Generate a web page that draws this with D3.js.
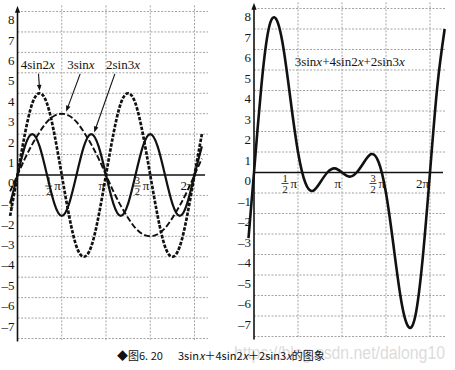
<!DOCTYPE html>
<html>
<head>
<meta charset="utf-8">
<script src="https://cdnjs.cloudflare.com/ajax/libs/d3/7.8.5/d3.min.js"></script>
<style>
body { margin: 0; background: #fff; }
svg { display: block; }
text { font-family: "Liberation Serif", "DejaVu Serif", serif; fill: #151515; }
</style>
</head>
<body>
<div id="chart"></div>
<script>
// Werte, x in Schritten von pi/12
var kLeft = [-1, 0, 1, 2, 3, 4, 5, 6, 7, 8, 9, 10, 11, 12, 13, 14, 15, 16, 17, 18, 19, 20, 21, 22, 23, 24, 25];
var val3sinx = [-0.8, 0, 0.8, 1.5, 2.1, 2.6, 2.9, 3.0, 2.9, 2.6, 2.1, 1.5, 0.8, 0, -0.8, -1.5, -2.1, -2.6, -2.9, -3.0, -2.9, -2.6, -2.1, -1.5, -0.8, 0, 0.8];
var val4sin2x = [-2, 0, 2, 3.5, 4, 3.5, 2, 0, -2, -3.5, -4, -3.5, -2, 0, 2, 3.5, 4, 3.5, 2, 0, -2, -3.5, -4, -3.5, -2, 0, 2];
var val2sin3x = [-1.4, 0, 1.4, 2, 1.4, 0, -1.4, -2, -1.4, 0, 1.4, 2, 1.4, 0, -1.4, -2, -1.4, 0, 1.4, 2, 1.4, 0, -1.4, -2, -1.4, 0, 1.4];

var kRight = [-0.75, 0, 1, 2, 3, 4, 5, 6, 7, 8, 9, 10, 11, 12, 13, 14, 15, 16, 17, 18, 19, 20, 21, 22, 23, 24, 25, 26];
var valSum = [-3.2, 0, 4.2, 7.0, 7.5, 6.1, 3.5, 1.0, -0.5, -0.9, -0.5, 0.0, 0.2, 0, -0.2, 0.0, 0.5, 0.9, 0.5, -1.0, -3.5, -6.1, -7.5, -7.0, -4.2, 0, 4.2, 7.0];

// Achsenbeschriftung
var yTickValues = [-7, -6, -5, -4, -3, -2, -1, 1, 2, 3, 4, 5, 6, 7, 8];
var yGridValues = [-8, -7, -6, -5, -4, -3, -2, -1, 1, 2, 3, 4, 5, 6, 7, 8];
var xTickPos = [6, 12, 18, 24];
var xTickNum = ["1", "", "3", ""];
var xTickDen = ["2", "", "2", ""];
var xTickMain = ["\u03c0", "\u03c0", "\u03c0", "2\u03c0"];

var width = 455;
var height = 370;

var svg = d3.select("#chart")
  .append("svg")
  .attr("width", width)
  .attr("height", height);

// Ein Diagramm zeichnen (Gitter, Achsen, Beschriftung)
function draw_panel(p) {
  var x = d3.scaleLinear().domain([0, 24]).range([p.x0, p.x2pi]);
  var y = d3.scaleLinear().domain([-8, 8]).range([p.yBottom, p.yTop]);
  var g = svg.append("g");

  // Gitterlinien
  g.selectAll(".hgrid").data(yGridValues).enter().append("line")
    .attr("x1", x(0)).attr("x2", p.gridRight)
    .attr("y1", function(d){ return y(d) }).attr("y2", function(d){ return y(d) })
    .attr("stroke", "#9a9a9a").attr("stroke-width", 0.9)
    .style("stroke-dasharray", "2,1.5");
  g.selectAll(".vgrid").data(xTickPos).enter().append("line")
    .attr("x1", function(d){ return x(d) }).attr("x2", function(d){ return x(d) })
    .attr("y1", y(8.3)).attr("y2", y(-8.1))
    .attr("stroke", "#9a9a9a").attr("stroke-width", 0.9)
    .style("stroke-dasharray", "2,1.5");

  // Achsen
  g.append("line")
    .attr("x1", x(0)).attr("x2", p.axisRight)
    .attr("y1", y(0)).attr("y2", y(0))
    .attr("stroke", "#111").attr("stroke-width", 1.3);
  g.append("line")
    .attr("x1", x(0)).attr("x2", x(0))
    .attr("y1", y(-8.15)).attr("y2", y(8.05))
    .attr("stroke", "#111").attr("stroke-width", 1.6);
  g.append("path")
    .attr("d", "M" + x(0) + "," + y(8.28) + " l-2.6,7 l5.2,0 z")
    .attr("fill", "#111");

  // y Beschriftung (etwas unterhalb der Gitterlinie wie im Original)
  var yAxis = g.append("g")
    .attr("transform", "translate(" + (x(0) - 1) + ",8)")
    .call(d3.axisLeft(y).tickValues(yTickValues).tickSize(0).tickPadding(2)
      .tickFormat(function(d){ return d < 0 ? "\u2013" + (-d) : d }));
  yAxis.select(".domain").remove();
  yAxis.selectAll("text")
    .style("font-size", "13px")
    .style("font-family", "Liberation Serif, serif")
    .style("fill", "#151515");

  g.append("text")
    .attr("x", x(0) - 3).attr("y", y(0) + 12)
    .attr("text-anchor", "end")
    .style("font-size", "13px")
    .text("0");

  // x Beschriftung
  xTickPos.forEach(function(k, i) {
    var gx = x(k) - 1;
    g.append("text")
      .attr("x", gx).attr("y", y(0) + 15)
      .attr("text-anchor", "end")
      .style("font-size", "13px")
      .text(xTickMain[i]);
    if (xTickNum[i] != "") {
      var cx = gx - 12;
      g.append("text").attr("x", cx).attr("y", y(0) + 9)
        .attr("text-anchor", "middle").style("font-size", "10.5px").text(xTickNum[i]);
      g.append("line").attr("x1", cx - 3.5).attr("x2", cx + 3.5)
        .attr("y1", y(0) + 11).attr("y2", y(0) + 11)
        .attr("stroke", "#151515").attr("stroke-width", 0.8);
      g.append("text").attr("x", cx).attr("y", y(0) + 20)
        .attr("text-anchor", "middle").style("font-size", "10.5px").text(xTickDen[i]);
    }
  });

  return { x: x, y: y, g: g };
}

function draw_curve(panel, ks, vals, width, dash) {
  var pts = ks.map(function(k, i){ return [k, vals[i]] });
  var line = d3.line()
    .x(function(d){ return panel.x(d[0]) })
    .y(function(d){ return panel.y(d[1]) })
    .curve(d3.curveNatural);
  panel.g.append("path")
    .datum(pts)
    .attr("d", line)
    .attr("fill", "none")
    .attr("stroke", "#111")
    .attr("stroke-width", width)
    .style("stroke-dasharray", dash);
}

// Text mit kursivem x
function math_label(panel, k, v, parts, anchor) {
  var t = panel.g.append("text")
    .attr("x", panel.x(k)).attr("y", panel.y(v))
    .attr("text-anchor", anchor)
    .style("font-size", "13px");
  parts.forEach(function(s){
    if (s == "x") t.append("tspan").style("font-style", "italic").text("x");
    else t.append("tspan").text(s);
  });
}

function arrow(panel, k1, v1, k2, v2) {
  var x1 = panel.x(k1), y1 = panel.y(v1), x2 = panel.x(k2), y2 = panel.y(v2);
  var a = Math.atan2(y2 - y1, x2 - x1);
  panel.g.append("line")
    .attr("x1", x1).attr("y1", y1)
    .attr("x2", x2 - 4 * Math.cos(a)).attr("y2", y2 - 4 * Math.sin(a))
    .attr("stroke", "#111").attr("stroke-width", 1.1);
  var L = 6, W = 2.3;
  var bx = x2 - L * Math.cos(a), by = y2 - L * Math.sin(a);
  panel.g.append("path")
    .attr("d", "M" + x2 + "," + y2 +
      " L" + (bx + W * Math.sin(a)) + "," + (by - W * Math.cos(a)) +
      " L" + (bx - W * Math.sin(a)) + "," + (by + W * Math.cos(a)) + " Z")
    .attr("fill", "#111");
}

// Linkes Diagramm
var left = draw_panel({ x0: 17.5, x2pi: 194.5, yTop: 11.5, yBottom: 338.5, gridRight: 208, axisRight: 205 });
draw_curve(left, kLeft, val3sinx, 1.9, "6,2.5");
draw_curve(left, kLeft, val4sin2x, 2.7, "3.5,1.5");
draw_curve(left, kLeft, val2sin3x, 2.2, null);

math_label(left, 2.75, 5.2, ["4sin2", "x"], "middle");
math_label(left, 8.6, 5.2, ["3sin", "x"], "middle");
math_label(left, 14.3, 5.2, ["2sin3", "x"], "middle");
arrow(left, 2.85, 4.95, 3.0, 4.12);
arrow(left, 8.5, 4.95, 6.6, 3.1);
arrow(left, 13.2, 4.95, 10.4, 2.08);

// Rechtes Diagramm
var right = draw_panel({ x0: 254, x2pi: 430, yTop: 8.5, yBottom: 336.5, gridRight: 445, axisRight: 443 });
draw_curve(right, kRight, valSum, 2.6, null);
math_label(right, 5.55, 5.2, ["3sin", "x", "+4sin2", "x", "+2sin3", "x"], "start");

// Wasserzeichen und Bildunterschrift
svg.append("text")
  .attr("x", 234).attr("y", 359)
  .attr("textLength", 211).attr("lengthAdjust", "spacingAndGlyphs")
  .style("font-family", "Liberation Sans, Arial, sans-serif")
  .style("font-size", "18px")
  .style("fill", "#dcdcdc")
  .text("https://blog.csdn.net/dalong10");

var cap = svg.append("text")
  .attr("x", 117).attr("y", 360)
  .style("font-family", "Noto Sans CJK SC, sans-serif")
  .style("font-size", "11px")
  .style("fill", "#111");
cap.append("tspan").text("\u25c6\u56fe6. 20");
cap.append("tspan").attr("x", 178).text("3sin");
cap.append("tspan").style("font-style", "italic").text("x");
cap.append("tspan").text("\uff0b4sin2");
cap.append("tspan").style("font-style", "italic").text("x");
cap.append("tspan").text("\uff0b2sin3");
cap.append("tspan").style("font-style", "italic").text("x");
cap.append("tspan").text("\u7684\u56fe\u8c61");
</script>
</body>
</html>
